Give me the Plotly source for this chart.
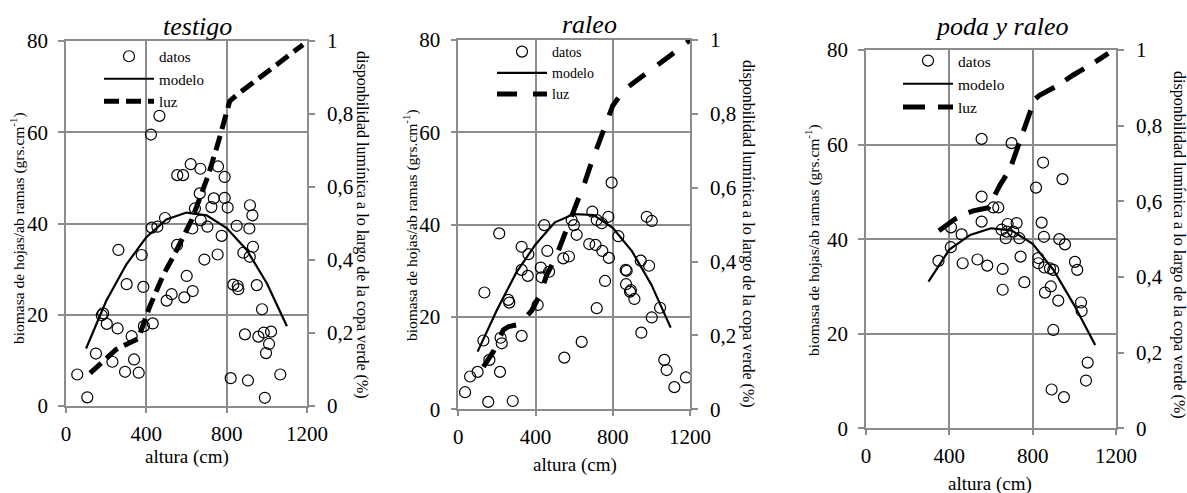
import plotly.graph_objects as go

W, H = 1187, 493

# ---------------- data: testigo ----------------
testigo_x = [56, 106, 149, 178, 185, 203, 231, 257, 261, 294, 302, 327, 339, 362, 377, 385, 388, 423, 427, 432,
             455, 465, 493, 501, 526, 553, 554, 583, 589, 601, 621, 629, 631, 642, 666, 669, 671, 689, 704, 724,
             736, 755, 757, 775, 790, 790, 805, 820, 833, 850, 855, 858, 883, 891, 906, 913, 915, 916, 928, 931,
             950, 958, 976, 985, 990, 996, 1011, 1021, 1067]
testigo_y = [6.9, 1.9, 11.5, 19.9, 20.3, 18, 9.7, 17, 34.2, 7.5, 26.7, 15.3, 10.2, 7.3, 33.1, 26.1, 17.5, 59.5, 39.1, 18.1,
             39.3, 63.6, 41.2, 23.1, 24.5, 35.3, 50.6, 50.6, 23.8, 28.5, 53, 38.9, 25.2, 43.3, 46.6, 52, 40.7, 32.1, 39.3, 43.6,
             45.5, 33.2, 52.5, 37.3, 50.2, 45.6, 43.5, 6.1, 26.6, 39.5, 26.3, 25.6, 33.6, 15.7, 5.6, 38.9, 32.7, 44, 41.8, 34.9,
             26.5, 15.2, 21.2, 16.1, 1.8, 11.6, 13.6, 16.3, 6.9]
testigo_model_x = [100, 200, 300, 400, 500, 600, 700, 800, 900, 1000, 1100]
testigo_model_y = [12.6, 23.0, 31.0, 37.0, 40.9, 42.4, 41.8, 39.0, 34.2, 26.9, 17.5]
testigo_luz_x = [120, 250, 360, 375, 415, 485, 535, 626, 709, 759, 790, 815, 850, 1000, 1180]
testigo_luz_y = [0.09, 0.155, 0.185, 0.21, 0.27, 0.36, 0.41, 0.51, 0.633, 0.724, 0.79, 0.835, 0.852, 0.916, 0.99]

# ---------------- data: raleo ----------------
raleo_x = [35, 61, 100, 130, 135, 155, 161, 212, 216, 219, 225, 259, 264, 282, 328, 328, 328, 360, 363, 411,
           427, 432, 445, 461, 470, 544, 549, 573, 587, 599, 613, 639, 678, 694, 711, 717, 717, 743, 746, 760,
           777, 780, 794, 829, 867, 869, 872, 889, 894, 912, 945, 948, 976, 988, 1002, 1002, 1045, 1067, 1079, 1119, 1179]
raleo_y = [3.7, 7.1, 8.1, 14.9, 25.3, 1.6, 10.7, 38.1, 8.1, 15.5, 14.3, 23.7, 23.1, 1.8, 15.9, 35.2, 30.2, 28.9, 33.6, 22.6,
           30.7, 28.6, 39.9, 34.3, 29.8, 32.7, 11.2, 33.1, 41, 39.9, 37.8, 14.6, 35.8, 42.8, 35.6, 41, 21.9, 40.3, 34.3, 27.8,
           41.7, 32.8, 49.1, 37.5, 30.2, 27.1, 30, 25.5, 25.8, 23.9, 32.2, 16.6, 41.7, 31.1, 40.8, 19.9, 22, 10.7, 8.5, 4.8, 6.9]
raleo_model_x = [100, 200, 300, 400, 500, 600, 700, 800, 900, 1000, 1100]
raleo_model_y = [12.5, 21.5, 29.6, 35.7, 40.5, 42.3, 42.1, 39.3, 34.2, 27.0, 17.7]
raleo_luz_x = [130, 181, 233, 260, 316, 380, 423, 458, 506, 544, 578, 618, 656, 691, 725, 760, 800, 858, 941, 1024, 1105, 1200]
raleo_luz_y = [0.115, 0.156, 0.215, 0.224, 0.23, 0.267, 0.31, 0.364, 0.413, 0.463, 0.513, 0.567, 0.616, 0.67, 0.72,
               0.772, 0.822, 0.865, 0.896, 0.93, 0.961, 1.0]

# ---------------- data: poda y raleo ----------------
poda_x = [348, 407, 408, 459, 464, 535, 555, 555, 555, 582, 611, 635, 651, 656, 656, 671, 675, 680, 699, 707,
          723, 736, 742, 760, 816, 827, 827, 843, 850, 854, 856, 859, 883, 887, 891, 899, 899, 923, 928, 943,
          950, 955, 1003, 1014, 1032, 1035, 1056, 1064]
poda_y = [35.4, 38.3, 42.5, 41, 34.9, 35.7, 61.2, 49, 43.7, 34.4, 46.7, 46.7, 42, 33.7, 29.3, 40.2, 41.6, 43.2, 60.3, 41.6,
          43.4, 40.2, 36.3, 30.9, 50.9, 36, 34.9, 43.5, 56.2, 40.5, 34, 28.7, 33.8, 30, 8.2, 33.5, 20.8, 27, 40, 52.7,
          6.6, 38.9, 35.2, 33.5, 26.6, 24.8, 10.1, 13.9]
poda_model_x = [300, 400, 500, 600, 700, 800, 900, 1000, 1100]
poda_model_y = [31.0, 37.8, 40.9, 42.3, 41.8, 39.0, 33.5, 26.0, 17.6]
poda_luz_x = [350, 427, 470, 515, 587, 643, 691, 723, 755, 791, 810, 835, 923, 995, 1091, 1163]
poda_luz_y = [0.522, 0.553, 0.565, 0.575, 0.583, 0.643, 0.685, 0.738, 0.786, 0.841, 0.87, 0.881, 0.907, 0.934, 0.965, 0.991]

# ---------------- labels ----------------
titles = ["testigo", "raleo", "poda y raleo"]
x_ticks = [0, 400, 800, 1200]
left_ticks = [0, 20, 40, 60, 80]
right_ticks = [0, 0.2, 0.4, 0.6, 0.8, 1]
right_ticktext = ["0", "0,2", "0,4", "0,6", "0,8", "1"]
legend_names = ["datos", "modelo", "luz"]
x_title = "altura (cm)"
left_title = "biomasa de hojas/ab ramas (grs.cm<sup>-1</sup>)"
right_title = "disponbilidad lumínica a lo largo de la copa verde (%)"

datasets = [
    (testigo_x, testigo_y, testigo_model_x, testigo_model_y, testigo_luz_x, testigo_luz_y),
    (raleo_x, raleo_y, raleo_model_x, raleo_model_y, raleo_luz_x, raleo_luz_y),
    (poda_x, poda_y, poda_model_x, poda_model_y, poda_luz_x, poda_luz_y),
]

# ---------------- layout geometry (pixels) ----------------
layout_px = [
    dict(x0=66, x1=307, y0=41, y1=406, title=(197, 26), xt=(187, 457), lt=(17, 228), rt=(362, 225),
         leg=(99, 40), dash="15px,7px", legfont=15),
    dict(x0=458.3, x1=690, y0=40, y1=409.3, title=(589, 25), xt=(575, 465), lt=(410, 225), rt=(748, 234),
         leg=(492, 36), dash="20px,16px", legfont=14),
    dict(x0=866, x1=1116, y0=50, y1=428.3, title=(1002, 27), xt=(990, 484), lt=(812, 240), rt=(1179, 245),
         leg=(898, 44), dash="22px,13px", legfont=15.5),
]

FONT = "Liberation Serif, Times New Roman, serif"
GRID = "#8c8c8c"

def px2x(p):
    return p / W

def px2y(p):
    return 1 - p / H

fig = go.Figure()
layout = dict(
    template="none",
    width=W, height=H, margin=dict(l=0, r=0, t=0, b=0, autoexpand=False),
    paper_bgcolor="white", plot_bgcolor="white",
    font=dict(family=FONT, color="black"),
    annotations=[],
)

for i, (ds, g) in enumerate(zip(datasets, layout_px)):
    sx, sy, mx, my, lx, ly = ds
    xa = "x" if i == 0 else f"x{i+1}"
    yl = "y" if i == 0 else f"y{2*i+1}"
    yr = f"y{2*i+2}"
    leg = "legend" if i == 0 else f"legend{i+1}"

    fig.add_trace(go.Scatter(x=sx, y=sy, mode="markers", name=legend_names[0], xaxis=xa, yaxis=yl,
                             legend=leg, marker=dict(symbol="circle-open", size=11, color="black",
                                                     line=dict(width=1.2, color="black"))))
    fig.add_trace(go.Scatter(x=mx, y=my, mode="lines", name=legend_names[1], xaxis=xa, yaxis=yl,
                             legend=leg, line=dict(color="black", width=2.2)))
    fig.add_trace(go.Scatter(x=lx, y=ly, mode="lines", name=legend_names[2], xaxis=xa, yaxis=yr,
                             legend=leg, line=dict(color="black", width=5, dash=g["dash"])))

    xdom = [px2x(g["x0"]), px2x(g["x1"])]
    ydom = [px2y(g["y1"]), px2y(g["y0"])]
    xkey = "xaxis" if i == 0 else f"xaxis{i+1}"
    ylkey = "yaxis" if i == 0 else f"yaxis{2*i+1}"
    yrkey = f"yaxis{2*i+2}"

    layout[xkey] = dict(domain=xdom, anchor=yl, range=[0, 1200], tickvals=x_ticks, automargin=False,
                        showgrid=True, gridcolor=GRID, gridwidth=1.5,
                        showline=True, linecolor=GRID, linewidth=1.5, mirror=True,
                        ticks="outside", ticklen=5, tickcolor=GRID, tickwidth=1.5,
                        zeroline=False, tickfont=dict(size=21, family=FONT), ticklabelstandoff=3)
    layout[ylkey] = dict(domain=ydom, anchor=xa, range=[0, 80], tickvals=left_ticks, automargin=False,
                         showgrid=True, gridcolor=GRID, gridwidth=1.5,
                         showline=True, linecolor=GRID, linewidth=1.5, mirror=True,
                         ticks="outside", ticklen=6, tickcolor=GRID, tickwidth=1.5,
                         zeroline=False, tickfont=dict(size=21, family=FONT), ticklabelstandoff=6)
    layout[yrkey] = dict(overlaying=yl, side="right", anchor=xa, range=[0, 1], tickvals=right_ticks,
                         ticktext=right_ticktext, showgrid=False, zeroline=False, automargin=False,
                         showline=True, linecolor=GRID, linewidth=1.5,
                         ticks="outside", ticklen=6, tickcolor=GRID, tickwidth=1.5,
                         tickfont=dict(size=21, family=FONT), ticklabelstandoff=8)
    layout[leg] = dict(x=px2x(g["leg"][0]), y=px2y(g["leg"][1]), xanchor="left", yanchor="top",
                       bgcolor="rgba(0,0,0,0)", borderwidth=0, font=dict(size=g["legfont"], family=FONT),
                       itemwidth=50, tracegroupgap=0)

    layout["annotations"] += [
        dict(text=f"<i>{titles[i]}</i>", x=px2x(g["title"][0]), y=px2y(g["title"][1]), xref="paper",
             yref="paper", showarrow=False, xanchor="center", yanchor="middle", font=dict(size=26, family=FONT)),
        dict(text=x_title, x=px2x(g["xt"][0]), y=px2y(g["xt"][1]), xref="paper", yref="paper",
             showarrow=False, xanchor="center", yanchor="middle", font=dict(size=19, family=FONT)),
        dict(text=left_title, x=px2x(g["lt"][0]), y=px2y(g["lt"][1]), xref="paper", yref="paper",
             showarrow=False, xanchor="center", yanchor="middle", textangle=-90, font=dict(size=15.5, family=FONT)),
        dict(text=right_title, x=px2x(g["rt"][0]), y=px2y(g["rt"][1]), xref="paper", yref="paper",
             showarrow=False, xanchor="center", yanchor="middle", textangle=90, font=dict(size=16, family=FONT)),
    ]

fig.update_layout(**layout)
# remove the browser's default 8px page margin so the 1187x493 figure fills the window exactly
fig.write_html("out.html", config={"displayModeBar": False},
               post_script="document.body.style.margin='0';document.body.style.overflow='hidden';")
